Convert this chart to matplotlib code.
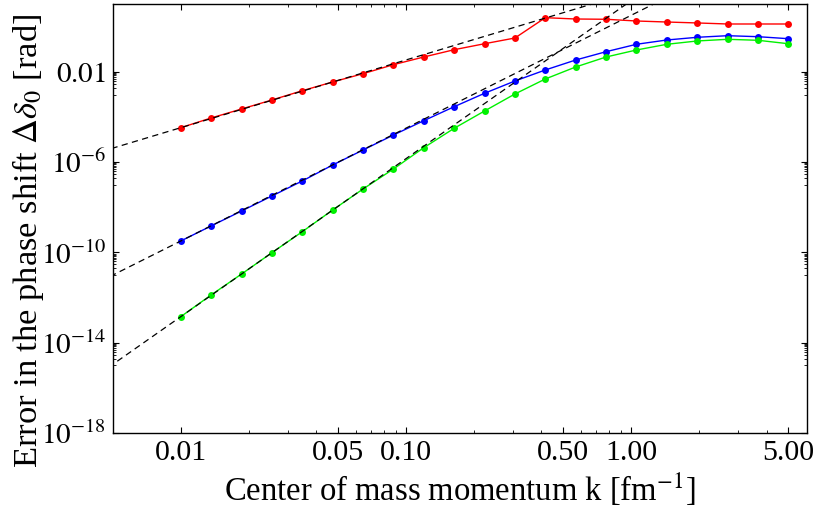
import matplotlib
matplotlib.use("Agg")
import matplotlib.pyplot as plt
from matplotlib.ticker import FixedLocator, FixedFormatter, NullFormatter
import numpy as np

plt.rcParams["font.family"] = ["Liberation Serif", "DejaVu Serif"]
plt.rcParams["mathtext.fontset"] = "stix"

# center of mass momentum k [fm^-1]
k = [0.0100, 0.01364, 0.01862, 0.02540, 0.03466, 0.04729, 0.06452, 0.08803,
     0.1201, 0.1639, 0.2236, 0.3051, 0.4163, 0.5680, 0.7750, 1.057, 1.443,
     1.969, 2.686, 3.665, 5.000]

# error in the phase shift, three approximations
err_red = [3.40e-5, 9.14e-5, 2.29e-4, 5.74e-4, 1.48e-3, 3.61e-3, 8.41e-3,
           2.11e-2, 4.62e-2, 9.73e-2, 0.179, 0.321, 2.55, 2.23, 2.17, 1.82,
           1.64, 1.49, 1.34, 1.34, 1.34]
err_blue = [3.24e-10, 1.50e-9, 6.90e-9, 3.19e-8, 1.48e-7, 7.55e-7, 3.49e-6,
            1.61e-5, 6.95e-5, 2.90e-4, 1.14e-3, 3.99e-3, 1.23e-2, 3.40e-2,
            7.94e-2, 0.169, 0.262, 0.345, 0.406, 0.367, 0.299]
err_green = [1.43e-13, 1.31e-12, 1.11e-11, 9.79e-11, 8.36e-10, 7.66e-9,
             6.52e-8, 5.02e-7, 4.42e-6, 3.20e-5, 1.87e-4, 1.06e-3, 4.90e-3,
             1.67e-2, 4.62e-2, 9.44e-2, 0.169, 0.237, 0.281, 0.254, 0.179]

# power-law fits  A * k^n  (dashed)
fit_prefactor = [34.0, 3.23, 14.3]
fit_exponent = [3, 5, 7]

series = [(err_red, "#ff0000"), (err_blue, "#0000ff"), (err_green, "#00f000")]

fig = plt.figure(figsize=(8.18, 5.08), dpi=100)
ax = fig.add_axes([113 / 818, 1 - 433 / 508, 694 / 818, 428.7 / 508])

for vals, col in series:
    ax.plot(k, vals, "-", color=col, lw=1.0, marker="o", ms=5,
            markeredgewidth=0, zorder=2)

kk = np.logspace(np.log10(0.004), np.log10(7), 200)
for a, n in zip(fit_prefactor, fit_exponent):
    ax.plot(kk, a * kk ** n, color="black", lw=0.9, ls=(0, (5, 3.5)), zorder=3)

ax.set_xscale("log")
ax.set_yscale("log")
ax.set_xlim(0.005, 6.05)
ax.set_ylim(1e-18, 10)

# x ticks
xmaj = [0.01, 0.05, 0.1, 0.5, 1.0, 5.0]
xlab = ["0.01", "0.05", "0.10", "0.50", "1.00", "5.00"]
xmin = [m * d for d in (0.01, 0.1, 1.0) for m in range(2, 10)
        if m != 5 and m * d < 6]
ax.xaxis.set_major_locator(FixedLocator(xmaj))
ax.xaxis.set_major_formatter(FixedFormatter(xlab))
ax.xaxis.set_minor_locator(FixedLocator(xmin))
ax.xaxis.set_minor_formatter(NullFormatter())

# y ticks
ymaj = [1e-18, 1e-14, 1e-10, 1e-6, 1e-2]
ylab = [r"$10^{-18}$", r"$10^{-14}$", r"$10^{-10}$", r"$10^{-6}$", r"$0.01$"]
ymin = [m * 10.0 ** (e - 1) for e in (-14, -10, -6, -2) for m in range(1, 10)]
ax.yaxis.set_major_locator(FixedLocator(ymaj))
ax.yaxis.set_major_formatter(FixedFormatter(ylab))
ax.yaxis.set_minor_locator(FixedLocator(ymin))
ax.yaxis.set_minor_formatter(NullFormatter())

ax.tick_params(which="both", direction="in", top=True, right=True,
               colors="black")
ax.tick_params(axis="x", labelsize=21.5)
ax.tick_params(axis="y", labelsize=21)
ax.tick_params(which="major", length=4, width=0.8, pad=5)
ax.tick_params(which="minor", length=2, width=0.6)
for s in ax.spines.values():
    s.set_linewidth(1.0)

ax.set_xlabel(r"Center of mass momentum k [fm$^{-1}$]", fontsize=23.5)
ax.set_ylabel(r"Error in the phase shift $\Delta\delta_0$ [rad]", fontsize=24.8)
ax.xaxis.set_label_coords(0.5, -0.088)
ax.yaxis.set_label_coords(-0.097, 0.448)

fig.savefig("out.png", dpi=100)
